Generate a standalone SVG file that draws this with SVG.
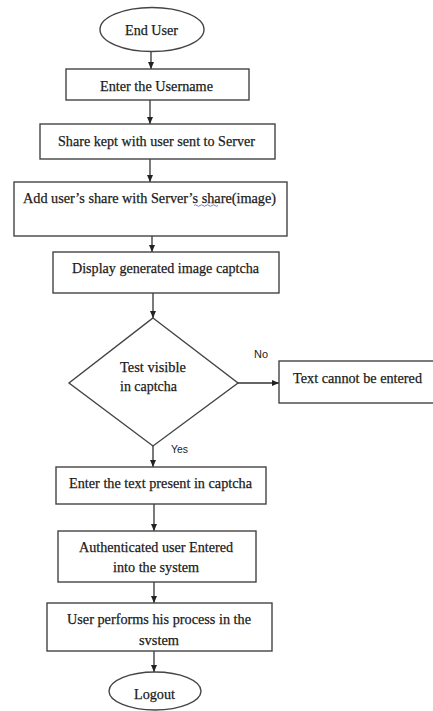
<svg xmlns="http://www.w3.org/2000/svg" width="433" height="711" viewBox="0 0 433 711">
<style>
  .box{fill:#fff;stroke:#444;stroke-width:1.4}
  .t{font-family:"Liberation Serif","Times New Roman",serif;font-size:15.5px;fill:#1a1a1a;stroke:#1a1a1a;stroke-width:0.25}
  .s{font-family:"Liberation Sans",Arial,sans-serif;font-size:11.5px;fill:#222}
  .c{stroke:#333;stroke-width:1.3;fill:none;marker-end:url(#ah)}
</style>
<defs>
  <marker id="ah" viewBox="0 0 7 6" refX="7" refY="3" markerWidth="7" markerHeight="6" markerUnits="userSpaceOnUse" orient="auto">
    <path d="M0,0 L7,3 L0,6 z" fill="#222"/>
  </marker>
</defs>
<rect width="433" height="711" fill="#fff"/>
<g id="connectors">
  <line class="c" x1="151" y1="52" x2="151" y2="69"/>
  <line class="c" x1="150" y1="100" x2="150" y2="124"/>
  <line class="c" x1="150" y1="159" x2="150" y2="182"/>
  <line class="c" x1="152" y1="236" x2="152" y2="252"/>
  <line class="c" x1="153" y1="293" x2="153" y2="318"/>
  <line class="c" x1="238" y1="383" x2="279" y2="383"/>
  <line class="c" x1="153" y1="446" x2="153" y2="467"/>
  <line class="c" x1="154" y1="504" x2="154" y2="531"/>
  <line class="c" x1="154" y1="582" x2="154" y2="603"/>
  <line class="c" x1="154" y1="651" x2="154" y2="672"/>
  <text class="s" x="254" y="358" textLength="14" lengthAdjust="spacingAndGlyphs">No</text>
  <text class="s" x="171" y="452.5" textLength="17" lengthAdjust="spacingAndGlyphs">Yes</text>
</g>
<g id="n-enduser">
  <ellipse class="box" cx="152" cy="29.5" rx="52" ry="22"/>
  <text class="t" x="125" y="35" textLength="53" lengthAdjust="spacingAndGlyphs">End User</text>
</g>
<g id="n-username">
  <rect class="box" x="66" y="69" width="183" height="31"/>
  <text class="t" x="100" y="90.5" textLength="113" lengthAdjust="spacingAndGlyphs">Enter the Username</text>
</g>
<g id="n-share">
  <rect class="box" x="40" y="124" width="235" height="35"/>
  <text class="t" x="58" y="145.5" textLength="197" lengthAdjust="spacingAndGlyphs">Share kept with user sent to Server</text>
</g>
<g id="n-add">
  <rect class="box" x="14" y="182" width="273" height="54"/>
  <text class="t" x="23" y="202.5" textLength="253" lengthAdjust="spacingAndGlyphs">Add user’s share with Server’s share(image)</text>
  <path d="M194,205.5 q1.5,-1.5 3,0 t3,0 t3,0 t3,0 t3,0 t3,0 t3,0 t3,0" fill="none" stroke="#6670c8" stroke-width="0.9"/>
</g>
<g id="n-display">
  <rect class="box" x="53" y="252" width="226" height="41"/>
  <text class="t" x="72" y="273.3" textLength="187" lengthAdjust="spacingAndGlyphs">Display generated image captcha</text>
</g>
<g id="n-decision">
  <polygon class="box" points="153,318 238,383 153,446 69,383"/>
  <text class="t" x="120" y="371.7" textLength="66" lengthAdjust="spacingAndGlyphs">Test visible</text>
  <text class="t" x="120" y="391" textLength="57" lengthAdjust="spacingAndGlyphs">in captcha</text>
</g>
<g id="n-cannot">
  <rect class="box" x="279" y="361" width="170" height="42"/>
  <text class="t" x="293" y="382.5" textLength="129" lengthAdjust="spacingAndGlyphs">Text cannot be entered</text>
</g>
<g id="n-entertext">
  <rect class="box" x="56" y="467" width="210" height="37"/>
  <text class="t" x="69" y="488.3" textLength="183" lengthAdjust="spacingAndGlyphs">Enter the text present in captcha</text>
</g>
<g id="n-auth">
  <rect class="box" x="58" y="531" width="198" height="51"/>
  <text class="t" x="79" y="551.7" textLength="154" lengthAdjust="spacingAndGlyphs">Authenticated user Entered</text>
  <text class="t" x="113" y="572.3" textLength="86" lengthAdjust="spacingAndGlyphs">into the system</text>
</g>
<g id="n-process">
  <rect class="box" x="47" y="603" width="225" height="48"/>
  <text class="t" x="67" y="624.3" textLength="184" lengthAdjust="spacingAndGlyphs">User performs his process in the</text>
  <text class="t" x="139" y="645" textLength="40" lengthAdjust="spacingAndGlyphs">svstem</text>
</g>
<g id="n-logout">
  <ellipse class="box" cx="155" cy="691" rx="46" ry="19"/>
  <text class="t" x="134" y="699" textLength="41" lengthAdjust="spacingAndGlyphs">Logout</text>
</g>
</svg>
